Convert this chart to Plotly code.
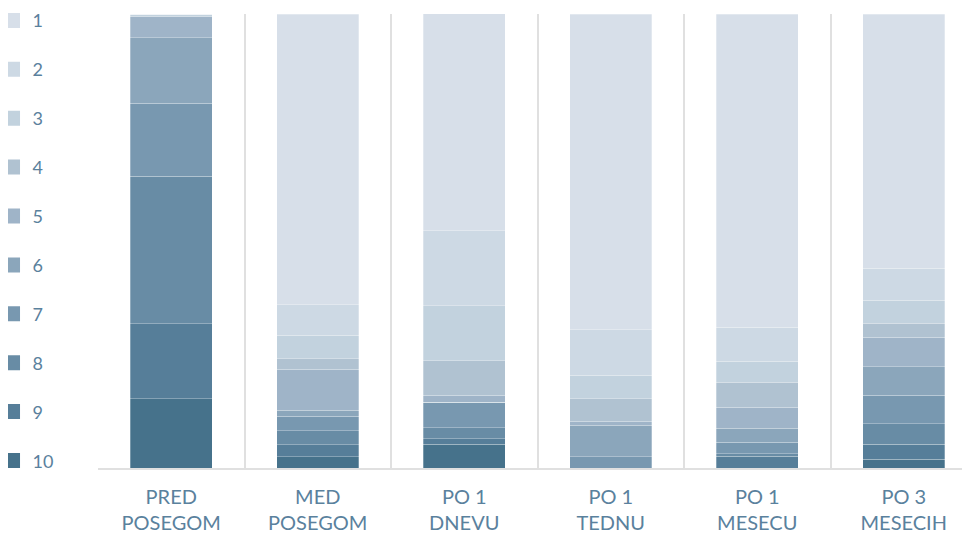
import plotly.graph_objects as go

categories = ["PRED<br>POSEGOM", "MED<br>POSEGOM", "PO 1<br>DNEVU", "PO 1<br>TEDNU", "PO 1<br>MESECU", "PO 3<br>MESECIH"]
series_names = ["1", "2", "3", "4", "5", "6", "7", "8", "9", "10"]

s1 = [0.0, 63.9, 47.8, 69.6, 68.9, 56.0]
s2 = [0.0, 6.8, 16.6, 10.0, 7.5, 7.1]
s3 = [0.6, 5.1, 12.1, 5.1, 4.6, 5.0]
s4 = [0.0, 2.4, 7.6, 5.0, 5.5, 3.1]
s5 = [4.6, 9.0, 1.5, 0.9, 4.6, 6.5]
s6 = [14.5, 1.3, 0.0, 6.9, 3.1, 6.3]
s7 = [16.0, 3.2, 5.6, 2.5, 2.6, 6.3]
s8 = [32.5, 3.1, 2.5, 0.0, 0.5, 4.5]
s9 = [16.5, 2.6, 1.2, 0.0, 2.6, 3.3]
s10 = [15.3, 2.5, 5.2, 0.0, 0.0, 1.9]

series_values = [s1, s2, s3, s4, s5, s6, s7, s8, s9, s10]
colors = ["#d7dfe9", "#cdd9e4", "#c2d2de", "#b0c2d1", "#9fb4c8",
          "#8ba6bb", "#7898b0", "#688ca5", "#567e99", "#46728b"]

text_color = "#5a819d"
font_family = "Lato, 'Open Sans', sans-serif"

fig = go.Figure()

# stacked bars: series 10 at the bottom, series 1 at the top
for i in range(len(series_names) - 1, -1, -1):
    fig.add_trace(go.Bar(
        x=categories,
        y=series_values[i],
        name=series_names[i],
        marker=dict(color=colors[i], line=dict(color="rgba(255,255,255,0.35)", width=0.8)),
        showlegend=False,
        hoverinfo="skip",
    ))

# legend entries (square markers), 1 on top
for i, name in enumerate(series_names):
    fig.add_trace(go.Scatter(
        x=[None], y=[None],
        mode="markers",
        name=name,
        marker=dict(symbol="square", size=15, color=colors[i]),
        legendgroup=name,
        legendrank=i + 1,
        showlegend=True,
    ))

fig.update_layout(
    width=970,
    height=533,
    barmode="stack",
    bargap=0.44,
    paper_bgcolor="white",
    plot_bgcolor="white",
    margin=dict(l=90, r=1, t=6, b=73, autoexpand=False),
    font=dict(family=font_family, color=text_color, size=18),
    legend=dict(
        x=-0.12, xanchor="left",
        y=1.026, yanchor="top",
        traceorder="grouped",
        tracegroupgap=22.5,
        maxheight=1.0,
        font=dict(size=18, color=text_color),
        itemwidth=30,
        bgcolor="rgba(0,0,0,0)",
    ),
    xaxis=dict(
        type="category",
        range=[-0.5, 5.5],
        tickson="boundaries",
        showgrid=True,
        gridcolor="#e0e0e0",
        gridwidth=1.5,
        ticks="",
        showline=True,
        linecolor="#e0e0e0",
        linewidth=1.5,
        ticklabelstandoff=10,
        tickfont=dict(size=20, color=text_color),
        fixedrange=True,
    ),
    yaxis=dict(
        range=[0, 100],
        showgrid=False,
        showticklabels=False,
        zeroline=False,
        showline=False,
        fixedrange=True,
    ),
)

fig.write_html("out.html")
